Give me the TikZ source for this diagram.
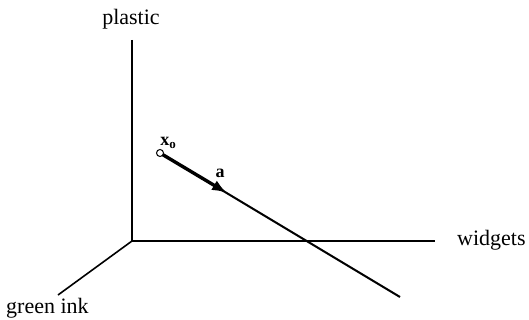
\documentclass[tikz,border=0pt]{standalone}
\usepackage{fontspec}
\setmainfont{Liberation Serif}
\usetikzlibrary{arrows.meta}
\tikzset{
  axis/.style={line width=1.6pt},
  lab/.style={inner sep=0pt, font=\fontsize{22}{26}\selectfont},
  blab/.style={inner sep=0pt, font=\fontsize{18}{21}\selectfont\bfseries},
  vecthin/.style={line width=2pt},
  vecthick/.style={line width=3.4pt, -{Latex[length=15pt,width=11pt]}},
  dot/.style={circle, draw, line width=1pt, fill=white, inner sep=0pt, minimum size=7pt}
}
\begin{document}
\begin{tikzpicture}[x=1pt,y=-1pt]
\useasboundingbox (0,0) rectangle (529,320);
\coordinate (O) at (132,241);
\coordinate (P) at (132,40);
\coordinate (W) at (435,241);
\coordinate (G) at (58,295);
\coordinate (X) at (160,153);
\coordinate (T) at (227,193);
\coordinate (E) at (400,297);
\draw[axis] (P) -- (O) -- (W);
\draw[axis] (O) -- (G);
\node[lab] (plastic) at (131,19) {plastic};
\node[lab, anchor=west] (widgets) at (457,240) {widgets};
\node[lab, anchor=west] (green) at (6,308) {green ink};
\draw[vecthin] (X) -- (E);
\draw[vecthick] (X) -- (T);
\node[dot] (x0) at (X) {};
\node[blab] (xlab) at (168,143) {x\raisebox{-0.35ex}{\fontsize{13}{15}\selectfont o}};
\node[blab] (alab) at (220,173) {a};
\end{tikzpicture}
\end{document}
